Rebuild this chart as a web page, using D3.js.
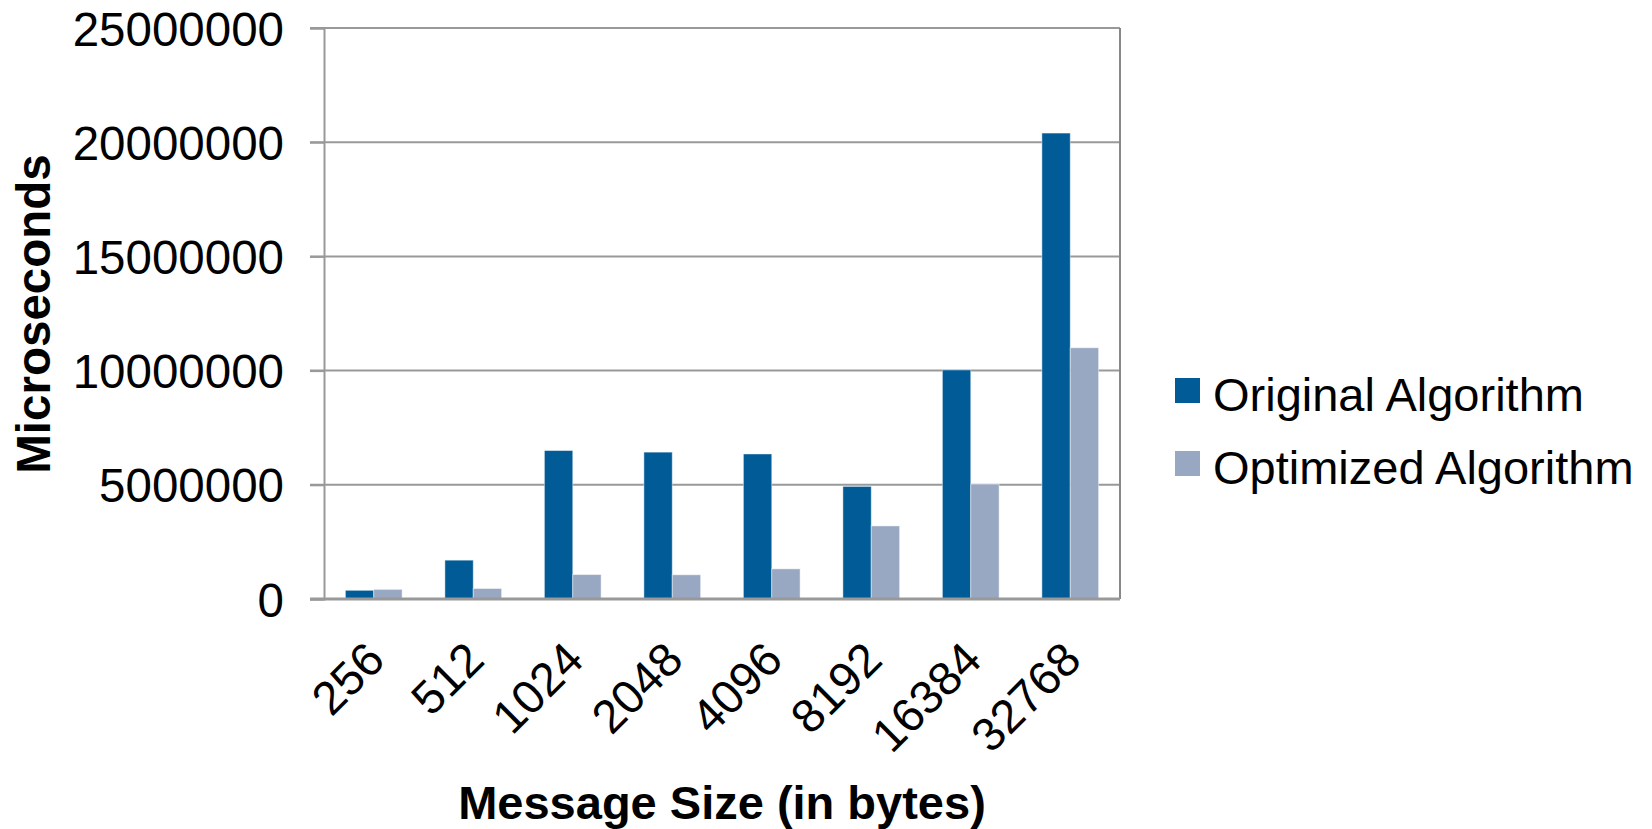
<!DOCTYPE html>
<html>
<head>
    <meta charset='utf-8' />
    <title>Message size vs time</title>
    <script src="https://d3js.org/d3.v7.min.js"></script>
    <style>
        body { margin: 0; background: #fff; }
        text { font-family: "Liberation Sans", Arial, sans-serif; fill: #000; }
    </style>
</head>
<body>
<div id="chart"></div>
<script>
    // data
    var sizes = ["256", "512", "1024", "2048", "4096", "8192", "16384", "32768"];
    var original = [380000, 1700000, 6500000, 6430000, 6350000, 4930000, 10030000, 20400000];
    var optimized = [420000, 460000, 1070000, 1060000, 1320000, 3200000, 5030000, 11000000];
    var seriesNames = ["Original Algorithm", "Optimized Algorithm"];
    var yTicks = [0, 5000000, 10000000, 15000000, 20000000, 25000000];

    var colors = ["#005b96", "#98a8c2"];

    var W = 1652, H = 829;
    var margin = { top: 28, right: 532, bottom: 230, left: 324 };
    var width = W - margin.left - margin.right,
        height = H - margin.top - margin.bottom;

    var svg = d3.select("#chart").append("svg")
        .attr("width", W)
        .attr("height", H);

    var g = svg.append("g")
        .attr("transform", "translate(" + margin.left + "," + margin.top + ")");

    var x = d3.scaleBand()
        .domain(sizes)
        .range([0, width])
        .paddingInner(0.43)
        .paddingOuter(0.215);

    var x1 = d3.scaleBand()
        .domain([0, 1])
        .range([0, x.bandwidth()]);

    var y = d3.scaleLinear()
        .domain([0, 25000000])
        .range([height, 0]);

    // gridlines
    g.append("g")
        .selectAll("line")
        .data(yTicks.slice(1))
        .enter().append("line")
        .attr("x1", -14)
        .attr("x2", width)
        .attr("y1", function (d) { return y(d); })
        .attr("y2", function (d) { return y(d); })
        .style("stroke", "#999")
        .style("stroke-width", 2);

    // right border
    g.append("line")
        .attr("x1", width).attr("x2", width)
        .attr("y1", 0).attr("y2", height)
        .style("stroke", "#888")
        .style("stroke-width", 2);

    // bars
    var rows = sizes.map(function (s, i) { return { size: s, vals: [original[i], optimized[i]] }; });

    var groups = g.append("g")
        .selectAll("g")
        .data(rows)
        .enter().append("g")
        .attr("transform", function (d) { return "translate(" + x(d.size) + ",0)"; });

    groups.selectAll("rect")
        .data(function (d) { return d.vals; })
        .enter().append("rect")
        .attr("x", function (d, i) { return x1(i); })
        .attr("width", x1.bandwidth())
        .attr("y", function (d) { return y(d); })
        .attr("height", function (d) { return height - y(d); })
        .style("fill", function (d, i) { return colors[i]; })
        .style("stroke", "rgba(255,255,255,0.45)")
        .style("stroke-width", 1);

    // y axis
    var yAxis = g.append("g")
        .call(d3.axisLeft(y).tickValues(yTicks).tickFormat(d3.format("d")).tickSize(14).tickPadding(26));
    yAxis.select(".domain").style("stroke", "#999").style("stroke-width", 2);
    yAxis.selectAll(".tick line").style("stroke", "#999").style("stroke-width", 2);
    yAxis.selectAll("text").style("font-size", "47.5px").attr("dy", "0.36em");

    // x axis line
    g.append("line")
        .attr("x1", -14).attr("x2", width)
        .attr("y1", height).attr("y2", height)
        .style("stroke", "#999")
        .style("stroke-width", 3);

    // x tick labels
    g.append("g")
        .selectAll("text")
        .data(sizes)
        .enter().append("text")
        .attr("transform", function (d) {
            return "translate(" + (x(d) + x.bandwidth() / 2 - 10) + "," + (height + 40) + ") rotate(-45)";
        })
        .attr("text-anchor", "end")
        .attr("dy", "0.7em")
        .style("font-size", "47px")
        .text(function (d) { return d; });

    // axis titles
    svg.append("text")
        .attr("x", margin.left + width / 2)
        .attr("y", 819)
        .attr("text-anchor", "middle")
        .style("font-size", "47px")
        .style("font-weight", "bold")
        .text("Message Size (in bytes)");

    svg.append("text")
        .attr("transform", "translate(50,314) rotate(-90)")
        .attr("text-anchor", "middle")
        .style("font-size", "47.5px")
        .style("font-weight", "bold")
        .text("Microseconds");

    // legend
    var legend = svg.append("g")
        .selectAll("g")
        .data(seriesNames)
        .enter().append("g")
        .attr("transform", function (d, i) { return "translate(1175," + (378 + i * 73) + ")"; });

    legend.append("rect")
        .attr("width", 25)
        .attr("height", 25)
        .style("fill", function (d, i) { return colors[i]; });

    legend.append("text")
        .attr("x", 38)
        .attr("y", 33)
        .style("font-size", "47px")
        .text(function (d) { return d; });
</script>
</body>
</html>
